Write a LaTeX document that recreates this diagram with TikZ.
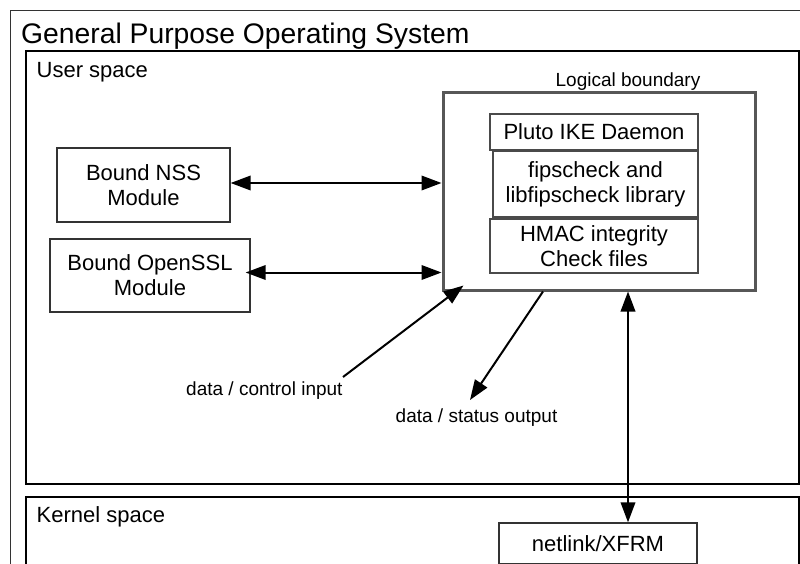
\documentclass[tikz,border=0pt]{standalone}
\usepackage{fontspec}
\setmainfont{Liberation Sans}
\usetikzlibrary{arrows.meta}
\definecolor{lgray}{HTML}{575757}
\definecolor{igray}{HTML}{4A4A4A}
\definecolor{ogray}{HTML}{333333}
\tikzset{
  region/.style={draw=black, line width=2bp},
  logicbox/.style={draw=lgray, line width=3bp, inner sep=0pt},
  part/.style={draw=igray, line width=1.4bp, inner sep=0pt, align=center, font=\fontsize{22bp}{25bp}\selectfont},
  modbox/.style={draw=ogray, line width=1.3bp, inner sep=0pt, align=center, font=\fontsize{22bp}{25bp}\selectfont},
  biarrow/.style={line width=2bp, {Triangle[length=20bp,width=14.5bp]}-{Triangle[length=20bp,width=14.5bp]}},
  onearrow/.style={line width=2bp, -{Triangle[length=20bp,width=14.5bp]}},
  lbl/.style={inner sep=0pt, font=\fontsize{19bp}{22bp}\selectfont},
  head/.style={inner sep=0pt, font=\fontsize{22bp}{25bp}\selectfont}
}
\begin{document}
\begin{tikzpicture}[x=1bp, y=-1bp]
\useasboundingbox (0,0) rectangle (800,564);
\begin{scope}
\clip (0,0) rectangle (800,564);
% outer box
\draw[draw=ogray, line width=1bp] (10,11) rectangle (830,600);
\node[inner sep=0pt, anchor=base west, font=\fontsize{28.3bp}{31bp}\selectfont] (title) at (21,43.5) {General Purpose Operating System};
% user space
\draw[region] (26,51) rectangle (798.5,484);
\node[head, anchor=base west] (user) at (36.5,77.5) {User space};
% kernel space
\draw[region] (26,497) rectangle (798.5,600);
\node[head, anchor=base west] (kernel) at (36.5,522.5) {Kernel space};

% logical boundary
\node[logicbox, minimum width=312bp, minimum height=197bp] (logical) at (599,191.5) {};
\node[lbl, anchor=base] (lbtext) at (628,86.5) {Logical boundary};
\node[part, minimum width=208bp, minimum height=36bp] (pluto) at (594,132) {Pluto IKE Daemon};
\node[part, minimum width=205bp, minimum height=66bp] (fips) at (595.5,184) {fipscheck and\\libfipscheck library};
\node[part, minimum width=208bp, minimum height=54bp] (hmac) at (594,246) {HMAC integrity\\Check files};

% modules
\node[modbox, minimum width=173bp, minimum height=74bp] (nss) at (143.5,185) {Bound NSS\\Module};
\node[modbox, minimum width=200bp, minimum height=73bp] (ossl) at (150,275.5) {Bound OpenSSL\\Module};

% netlink
\node[modbox, minimum width=198bp, minimum height=41bp] (netlink) at (598,543.5) {netlink/XFRM};

% labels
\node[lbl, anchor=base west] (cin) at (186,395) {data / control input};
\node[lbl, anchor=base west] (sout) at (395.5,422.5) {data / status output};

% arrows
\coordinate (n1) at ([yshift=2bp]nss.east);
\draw[biarrow] (n1) -- (logical.west |- n1);
\coordinate (o1) at ([xshift=-5bp,yshift=3bp]ossl.east);
\draw[biarrow] (o1) -- (logical.west |- o1);
\coordinate (cinT) at (343,377);
\coordinate (cinH) at ([xshift=22bp,yshift=6bp]logical.south west);
\draw[onearrow] (cinT) -- (cinH);
\coordinate (soutT) at (543,0);
\coordinate (soutH) at (470,400);
\draw[onearrow] (logical.south -| soutT) -- (soutH);
\coordinate (vx) at (628,0);
\draw[biarrow] (logical.south -| vx) -- (netlink.north -| vx);
\end{scope}
\end{tikzpicture}
\end{document}
